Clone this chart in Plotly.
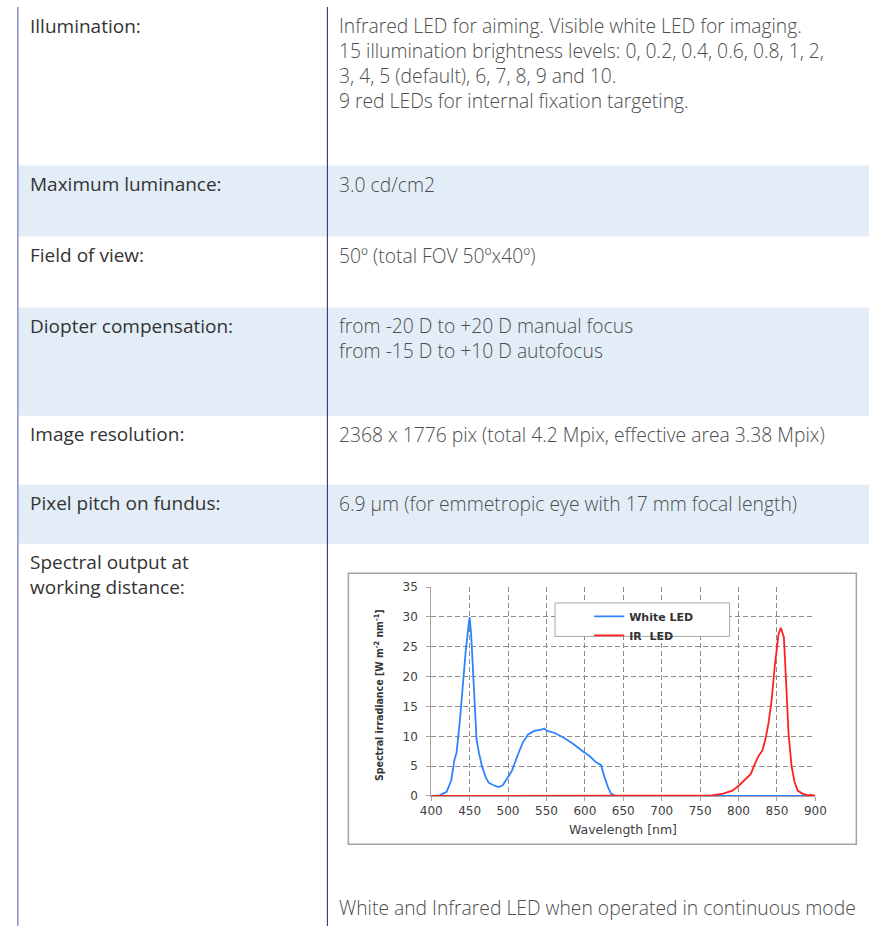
import plotly.graph_objects as go

W, H = 880, 933

# ---- table content ----
spec_labels = [
    ["Illumination:"],
    ["Maximum luminance:"],
    ["Field of view:"],
    ["Diopter compensation:"],
    ["Image resolution:"],
    ["Pixel pitch on fundus:"],
    ["Spectral output at", "working distance:"],
]
spec_values = [
    ["Infrared LED for aiming. Visible white LED for imaging.",
     "15 illumination brightness levels: 0, 0.2, 0.4, 0.6, 0.8, 1, 2,",
     "3, 4, 5 (default), 6, 7, 8, 9 and 10.",
     "9 red LEDs for internal fixation targeting."],
    ["3.0 cd/cm2"],
    ["50º (total FOV 50ºx40º)"],
    ["from -20 D to +20 D manual focus",
     "from -15 D to +10 D autofocus"],
    ["2368 x 1776 pix (total 4.2 Mpix, effective area 3.38 Mpix)"],
    ["6.9 µm (for emmetropic eye with 17 mm focal length)"],
    [],
]
chart_caption = "White and Infrared LED when operated in continuous mode"

# ---- spectrum ----
white_nm = [400, 411, 420, 426, 430, 433, 437, 441, 445, 449, 450, 452, 454, 456, 459,
            462, 466, 471, 475, 481, 488, 493, 498, 505, 513, 519, 526, 534, 543, 547,
            551, 560, 572, 585, 598, 606, 615, 621, 625, 630, 634, 640, 900]
white_val = [0, 0.1, 0.7, 2.6, 5.9, 7.3, 12.2, 18.9, 24.4, 29, 30, 27, 21.6, 15, 9.5,
             7.3, 5.0, 3.1, 2.2, 1.8, 1.5, 1.8, 2.9, 4.2, 7.0, 8.9, 10.3, 10.9, 11.1, 11.3,
             10.9, 10.6, 9.8, 8.7, 7.4, 6.7, 5.6, 5.2, 3.4, 1.5, 0.4, 0, 0]

ir_nm = [400, 760, 765, 780, 792, 801, 809, 816, 820, 826, 831, 835, 839, 843, 847,
         852, 855, 859, 862, 865, 869, 873, 877, 883, 890, 894, 898, 900]
ir_val = [0, 0, 0.1, 0.4, 0.9, 1.8, 2.9, 3.7, 5.0, 6.7, 7.6, 9.5, 12.2, 16, 21.6,
          27.1, 28.2, 26.6, 18.9, 10.6, 5.0, 2.3, 0.9, 0.4, 0.1, 0.2, 0.1, 0]

series_names = ["White LED", "IR  LED"]
series_colors = ["#2f82ff", "#ff2020"]

# ---- page geometry (pixels) ----
ROW_EDGES = [0, 161, 233, 305, 415, 485, 545, H]
LEFT_X, DIV_X = 7, 324.5
LABEL_X, VALUE_X = 18, 335
FIRST_LINE, LINE_GAP = 19, 25
ROW_BG = "#e3edf7"

def px(x):
    return x / W

def py(y):
    return 1 - y / H

fig = go.Figure()
for name, color, xs, ys in zip(series_names, series_colors, [white_nm, ir_nm], [white_val, ir_val]):
    fig.add_trace(go.Scatter(x=xs, y=ys, name=name, mode="lines",
                             line=dict(color=color, width=1.8)))

shapes = []
for i in range(len(ROW_EDGES) - 1):
    if i % 2 == 1:
        shapes.append(dict(type="rect", xref="paper", yref="paper", layer="below",
                           x0=px(LEFT_X), x1=1, y0=py(ROW_EDGES[i]), y1=py(ROW_EDGES[i + 1]),
                           fillcolor=ROW_BG, line=dict(width=0)))
shapes += [
    dict(type="line", xref="paper", yref="paper", x0=px(LEFT_X), x1=px(LEFT_X), y0=0, y1=1,
         line=dict(color="#8e8ec4", width=1.5)),
    dict(type="line", xref="paper", yref="paper", x0=px(DIV_X), x1=px(DIV_X), y0=0, y1=1,
         line=dict(color="#1f2470", width=1)),
    # chart frame
    dict(type="rect", xref="paper", yref="paper", layer="below",
         x0=px(346), x1=px(867), y0=py(575), y1=py(850),
         fillcolor="white", line=dict(color="#a3a3a3", width=1.5)),
    # legend box
    dict(type="rect", xref="paper", yref="paper", layer="above",
         x0=px(558), x1=px(737), y0=py(605), y1=py(639),
         fillcolor="white", line=dict(color="#a8a8a8", width=1)),
]

annotations = []
# plotly spaces <br> lines at 1.3 em, so these sizes give ~25 px line pitch
text_font = dict(family="Open Sans, sans-serif", size=19, color="#333333")
value_font = dict(family="Open Sans, sans-serif", size=19.3, color="#4d4d4d", weight=300)

def cell(x, top, lines, font):
    mid = top + FIRST_LINE + (len(lines) - 1) * LINE_GAP / 2
    return dict(x=px(x), y=py(mid), text="<br>".join(lines), align="left",
                xref="paper", yref="paper", xanchor="left", yanchor="middle",
                showarrow=False, borderpad=0, font=font)

for i, (labels, values) in enumerate(zip(spec_labels, spec_values)):
    annotations.append(cell(LABEL_X, ROW_EDGES[i], labels, text_font))
    if values:
        annotations.append(cell(VALUE_X, ROW_EDGES[i], values, value_font))
annotations.append(cell(VALUE_X, 914 - FIRST_LINE, [chart_caption], value_font))

axis_font = dict(family="DejaVu Sans, Verdana, sans-serif", size=12, color="#404040")
annotations.append(dict(x=px(628), y=py(835), text="Wavelength [nm]", xref="paper", yref="paper",
                        xanchor="center", yanchor="middle", showarrow=False,
                        font=dict(axis_font, size=12.5)))
annotations.append(dict(x=px(377), y=py(699), text="Spectral irradiance [W m<sup>-2</sup> nm<sup>-1</sup>]",
                        xref="paper", yref="paper", xanchor="center", yanchor="middle",
                        textangle=-90, showarrow=False,
                        font=dict(family="Liberation Sans Narrow, DejaVu Sans Condensed, sans-serif",
                                  size=10.5, color="#333333", weight="bold")))

grid = dict(showgrid=True, gridcolor="#8c8c8c", gridwidth=1, griddash="5px,3px",
            showline=True, linecolor="#a3a3a3", linewidth=1, ticks="outside", ticklen=4,
            tickcolor="#a3a3a3", tickfont=axis_font, zeroline=False, fixedrange=True)

fig.update_layout(
    width=W, height=H,
    margin=dict(l=0, r=0, t=0, b=0),
    paper_bgcolor="white", plot_bgcolor="white",
    xaxis=dict(domain=[px(431), px(825)], range=[400, 900], tick0=400, dtick=50, **grid),
    yaxis=dict(domain=[py(801), py(589)], range=[0, 35], tick0=0, dtick=5,
               ticklabelstandoff=6, **grid),
    legend=dict(x=px(593), y=py(604), xanchor="left", yanchor="top",
                bgcolor="rgba(0,0,0,0)", borderwidth=0, tracegroupgap=0,
                font=dict(family="DejaVu Sans, Verdana, sans-serif", size=11, color="#333333",
                          weight="bold")),
    shapes=shapes,
    annotations=annotations,
)

# the page is the table itself: drop the browser's default body margin
fig.write_html("out.html", config={"displayModeBar": False},
               post_script="document.body.style.margin='0px';")
